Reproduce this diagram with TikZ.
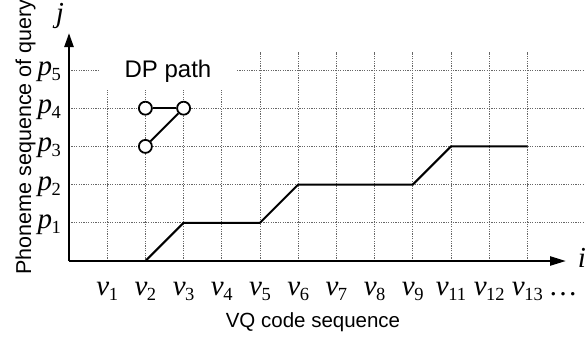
\documentclass[tikz,border=0pt]{standalone}
\usepackage{fontspec}
\setmainfont{Liberation Sans}
\newfontfamily\tms{Liberation Serif}
\usetikzlibrary{arrows.meta}

% italic symbol with an upright subscript, Times-like
\newcommand\symlab[2]{{\tms\fontsize{29}{29}\selectfont\itshape #1\kern-0.5pt\raisebox{-5pt}{\fontsize{18.5}{18.5}\selectfont\upshape #2}}}

\tikzset{
  gridline/.style={draw=black!60, line width=0.7pt, dash pattern=on 1.2pt off 1.2pt},
  axisline/.style={draw=black, line width=2.4pt},
  pathline/.style={draw=black, line width=2pt},
  state/.style={circle, draw=black, line width=1.8pt, fill=white, minimum size=13pt, inner sep=0pt},
  sanslab/.style={inner sep=0pt, font=\fontsize{20.5}{20.5}\selectfont},
  vlab/.style={anchor=base, inner sep=0pt},
  plab/.style={anchor=base east, inner sep=0pt},
}

\begin{document}
\begin{tikzpicture}[x=1pt, y=-1pt]
\useasboundingbox (0,0) rectangle (587,340);
\def\ox{69}\def\oy{261}\def\s{38.2}

% dotted grid
\foreach \k in {1,...,12}
  \draw[gridline] ({\ox+\s*\k},\oy) -- ({\ox+\s*\k},52);
\foreach \k in {1,...,5}
  \draw[gridline] (\ox,{\oy-\s*\k}) -- (584,{\oy-\s*\k});

% legend title on a white patch
\node[fill=white, minimum width=136pt, minimum height=38pt, inner sep=0pt,
      font=\fontsize{24}{24}\selectfont] (dplabel) at (168,71) {DP path};

% axes
\coordinate (O) at (\ox,\oy);
\coordinate (xend) at (566,\oy);
\coordinate (yend) at (\ox,33);
\draw[axisline, -{Triangle[length=16pt,width=9pt]}] (O) -- (xend);
\draw[axisline, -{Triangle[length=14pt,width=9pt]}] (O) -- (yend);

% axis letters
\node[anchor=base, inner sep=0pt] (ilab) at (582,267) {\tms\fontsize{29}{29}\selectfont\itshape i};
\node[anchor=base, inner sep=0pt] (jlab) at (60,22) {\tms\fontsize{29}{29}\selectfont\itshape j};

% code labels along i
\foreach \n [count=\k] in {1,2,3,4,5,6,7,8,9,11,12,13}
  \node[vlab] (v\k) at ({\ox+\s*\k},295) {\symlab{v}{\n}};
\node[anchor=base, inner sep=0pt] (vdots) at (563,295) {\tms\fontsize{29}{29}\selectfont\ldots};

% phoneme labels along j
\foreach \k in {1,...,5}
  \node[plab] (p\k) at (61,{\oy-\s*\k+5.5}) {\symlab{p}{\k}};

% axis titles
\node[sanslab, anchor=base] (xtitle) at (313,327) {VQ code sequence};
\node[sanslab, anchor=base, rotate=90, font=\fontsize{21.5}{21.5}\selectfont] (ytitle) at (31,137) {Phoneme sequence of query};

% alignment path
\coordinate (a0) at ({\ox+\s*2},\oy);
\coordinate (a1) at ({\ox+\s*3},{\oy-\s*1});
\coordinate (a2) at ({\ox+\s*5},{\oy-\s*1});
\coordinate (a3) at ({\ox+\s*6},{\oy-\s*2});
\coordinate (a4) at ({\ox+\s*9},{\oy-\s*2});
\coordinate (a5) at ({\ox+\s*10},{\oy-\s*3});
\coordinate (a6) at ({\ox+\s*12},{\oy-\s*3});
\draw[pathline, line join=miter] (a0) -- (a1) -- (a2) -- (a3) -- (a4) -- (a5) -- (a6);

% legend: permitted steps
\node[state] (l1) at ({\ox+\s*2},{\oy-\s*3}) {};
\node[state] (l2) at ({\ox+\s*2},{\oy-\s*4}) {};
\node[state] (l3) at ({\ox+\s*3},{\oy-\s*4}) {};
\draw[pathline] (l1) -- (l3);
\draw[pathline] (l2) -- (l3);
\end{tikzpicture}
\end{document}
